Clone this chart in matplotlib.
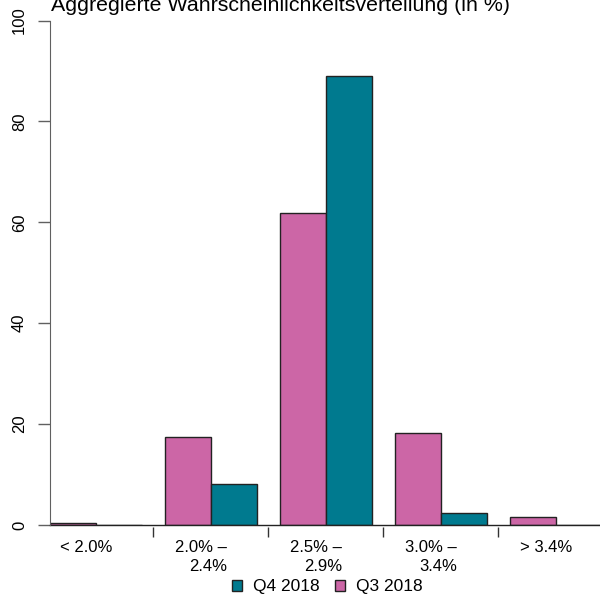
import matplotlib
matplotlib.use('Agg')

import matplotlib.pyplot as plt
import matplotlib.transforms as mtransforms
from matplotlib.patches import Patch
import numpy as np

plt.rcParams['font.family'] = ['Liberation Sans', 'DejaVu Sans']

# data (in %)
categories = ['< 2.0%', '2.0% \u2013\n2.4%', '2.5% \u2013\n2.9%', '3.0% \u2013\n3.4%', '> 3.4%']
q3_2018 = [0.3, 17.4, 61.8, 18.2, 1.6]
q4_2018 = [0.0, 8.2, 89.0, 2.4, 0.0]
yticks = [0, 20, 40, 60, 80, 100]
title = 'Aggregierte Wahrscheinlichkeitsverteilung (in %)'

PINK = '#cc66a6'
TEAL = '#007a8f'
GREY = '#606060'

W, H, DPI = 600, 598, 100
fig = plt.figure(figsize=(W / DPI, H / DPI), dpi=DPI)
ax = fig.add_axes([50 / W, (H - 525) / H, 550 / W, 504.5 / H])

x = np.arange(len(categories))
bw = 0.4
ax.bar(x - bw / 2, q3_2018, bw, color=PINK, edgecolor='#222222', linewidth=1)
ax.bar(x + bw / 2, q4_2018, bw, color=TEAL, edgecolor='#222222', linewidth=1)

ax.set_xlim(-0.4, 4.383)
ax.set_ylim(0, 100)

# baseline
ax.axhline(0, color='#222222', linewidth=1, clip_on=False)

for s in ['top', 'right']:
    ax.spines[s].set_visible(False)
ax.spines['left'].set_color(GREY)
ax.spines['bottom'].set_visible(False)
ax.spines['bottom'].set_position(('outward', 1.5))

ax.set_yticks(yticks)
ax.set_yticklabels([str(v) for v in yticks], rotation=90, va='center', fontsize=12)
ax.tick_params(axis='y', length=8.6, width=1, color=GREY, pad=8)

# separator ticks between groups
ax.set_xticks(x[:-1] + 0.5)
ax.set_xticklabels([])
ax.tick_params(axis='x', length=7.2, width=1, color='#333333')

trans = mtransforms.blended_transform_factory(ax.transData, ax.transAxes)
off = mtransforms.ScaledTranslation(-10 / DPI, -15 / DPI, fig.dpi_scale_trans)
for i, lab in enumerate(categories):
    ax.text(x[i], 0, lab, transform=trans + off, ha='center', va='top',
            multialignment='right', fontsize=12, linespacing=1.3)

fig.text(51 / W, 1 - 11 / H, title, ha='left', va='baseline', fontsize=15.4)

handles = [Patch(facecolor=TEAL, edgecolor='#222222', label='Q4 2018'),
           Patch(facecolor=PINK, edgecolor='#222222', label='Q3 2018')]
fig.legend(handles=handles, loc='center', bbox_to_anchor=(327 / W, 1 - 587 / H),
           ncol=2, frameon=False, fontsize=12.5, handlelength=0.6, handleheight=0.6,
           handletextpad=0.6, columnspacing=0.9, borderpad=0)

plt.savefig('out.png', dpi=DPI)
